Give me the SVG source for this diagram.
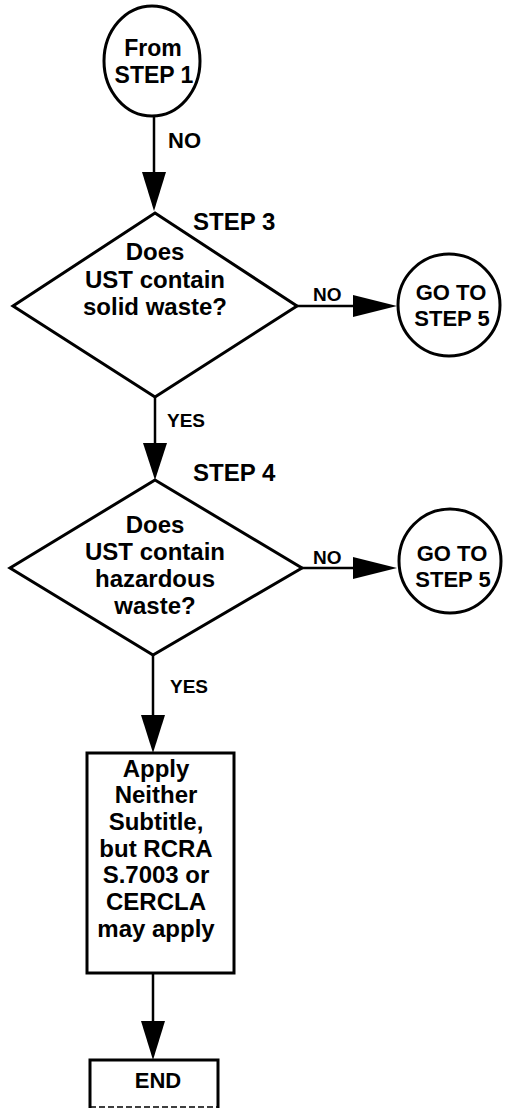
<svg xmlns="http://www.w3.org/2000/svg" width="514" height="1112" viewBox="0 0 514 1112">
<style>
.s{fill:#fff;stroke:#000;stroke-width:3}
.t{font-family:"Liberation Sans",Arial,sans-serif;font-weight:bold;fill:#000;text-anchor:middle}
.l{font-family:"Liberation Sans",Arial,sans-serif;font-weight:bold;fill:#000}
.c{stroke:#000;stroke-width:2.5;fill:none}
.h{fill:#000;stroke:none}
</style>
<rect width="514" height="1112" fill="#fff"/>
<g id="connectors">
<line class="c" x1="154" y1="116" x2="154" y2="180"/>
<polygon class="h" points="142,172 166,172 154,211"/>
<text class="l" x="168" y="148" font-size="22">NO</text>
<line class="c" x1="297" y1="306" x2="360" y2="306"/>
<polygon class="h" points="353,295 353,317 397,306"/>
<text class="l" x="313" y="301" font-size="19">NO</text>
<line class="c" x1="155" y1="397" x2="155" y2="450"/>
<polygon class="h" points="143,443 167,443 155,480"/>
<text class="l" x="167" y="427" font-size="19">YES</text>
<line class="c" x1="302" y1="568" x2="360" y2="568"/>
<polygon class="h" points="353,557 353,579 397,568"/>
<text class="l" x="313" y="564" font-size="19">NO</text>
<line class="c" x1="153" y1="655" x2="153" y2="720"/>
<polygon class="h" points="141,715 165,715 153,753"/>
<text class="l" x="170" y="693" font-size="19">YES</text>
<line class="c" x1="153" y1="973" x2="153" y2="1025"/>
<polygon class="h" points="141,1021 165,1021 153,1060"/>
</g>
<g id="start">
<ellipse class="s" cx="152" cy="61" rx="48" ry="55"/>
<text class="t" x="153" y="56" font-size="23">From</text>
<text class="t" x="154" y="83" font-size="23">STEP 1</text>
</g>
<g id="step3">
<polygon class="s" points="155,213 297,306 155,397 13,306"/>
<text class="l" x="193" y="230" font-size="24">STEP 3</text>
<text class="t" x="155" y="260" font-size="24">Does</text>
<text class="t" x="155" y="288" font-size="24">UST contain</text>
<text class="t" x="155" y="315" font-size="24">solid waste?</text>
</g>
<g id="goto1">
<ellipse class="s" cx="449" cy="305" rx="51" ry="51"/>
<text class="t" x="451" y="300" font-size="22">GO TO</text>
<text class="t" x="452" y="326" font-size="22">STEP 5</text>
</g>
<g id="step4">
<polygon class="s" points="155,480 302,568 153,655 10,568"/>
<text class="l" x="193" y="481" font-size="24">STEP 4</text>
<text class="t" x="155" y="533" font-size="24">Does</text>
<text class="t" x="155" y="560" font-size="24">UST contain</text>
<text class="t" x="155" y="587" font-size="24">hazardous</text>
<text class="t" x="155" y="614" font-size="24">waste?</text>
</g>
<g id="goto2">
<ellipse class="s" cx="450" cy="561" rx="51" ry="52"/>
<text class="t" x="452" y="561" font-size="22">GO TO</text>
<text class="t" x="453" y="587" font-size="22">STEP 5</text>
</g>
<g id="action">
<rect class="s" x="87" y="753" width="147" height="220"/>
<text class="t" x="156" y="777" font-size="24">Apply</text>
<text class="t" x="156" y="803" font-size="24">Neither</text>
<text class="t" x="156" y="830" font-size="24">Subtitle,</text>
<text class="t" x="156" y="857" font-size="24">but RCRA</text>
<text class="t" x="156" y="883" font-size="24">S.7003 or</text>
<text class="t" x="156" y="910" font-size="24">CERCLA</text>
<text class="t" x="156" y="937" font-size="24">may apply</text>
</g>
<g id="end">
<path d="M90,1108 V1060 H218 V1108" fill="#fff" stroke="#000" stroke-width="3"/>
<line x1="90" y1="1107" x2="218" y2="1107" stroke="#000" stroke-width="1.5" stroke-dasharray="6,3"/>
<text class="t" x="158" y="1088" font-size="22">END</text>
</g>
</svg>
